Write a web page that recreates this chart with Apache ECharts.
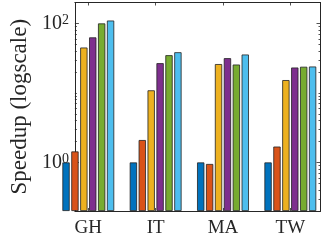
<!DOCTYPE html>
<html>
<head>
<meta charset="utf-8">
<script src="https://cdn.jsdelivr.net/npm/echarts@6/dist/echarts.min.js"></script>
<style>html,body{margin:0;padding:0;background:#fff}#c{width:324px;height:241px}</style>
</head>
<body>
<div id="c"></div>
<script>
var categories = ['GH', 'IT', 'MA', 'TW'];
var seriesA = [1.0, 1.0, 1.0, 1.0];
var seriesB = [1.44, 2.1, 0.95, 1.69];
var seriesC = [45, 10.9, 26, 15.3];
var seriesD = [63, 26.8, 31.6, 23.2];
var seriesE = [100, 34.9, 25.6, 23.8];
var seriesF = [110, 38.5, 35.7, 24];
var yTickLabels = [1, 100];
var yMinorTicks = [0.2,0.3,0.4,0.5,0.6,0.7,0.8,0.9,2,3,4,5,6,7,8,9,10,20,30,40,50,60,70,80,90,200];

var colors = ['#0072BD', '#D95319', '#EDB120', '#7E2F8E', '#77AC30', '#4DBEEE'];
var allSeries = [seriesA, seriesB, seriesC, seriesD, seriesE, seriesF];
var FONT = 'Liberation Serif';
var AX = '#262626';

var chart = echarts.init(document.getElementById('c'), null, {renderer: 'canvas'});

function yLab(v) {
  var e = Math.round(Math.log10(v));
  return '{b|10}{s|' + e + '}';
}
var richY = {
  b: {fontFamily: FONT, fontSize: 20, color: AX, verticalAlign: 'bottom', lineHeight: 20},
  s: {fontFamily: FONT, fontSize: 14, color: AX, verticalAlign: 'top', lineHeight: 14, padding: [0, 0, 10, 0]}
};

function logAxis(pos, major, showLabels, gridIndex) {
  return {
    type: 'log', gridIndex: gridIndex || 0, position: pos, min: 0.2, max: 200, logBase: 10,
    startValue: 0.2,
    axisLine: {show: major, lineStyle: {color: AX, width: 1}},
    axisTick: {show: true, inside: true, length: major ? 4 : 2,
      customValues: major ? yTickLabels : yMinorTicks,
      lineStyle: {color: AX, width: 0.8}},
    axisLabel: {show: showLabels, customValues: yTickLabels, formatter: yLab, rich: richY, margin: 6},
    splitLine: {show: false},
    name: showLabels ? 'Speedup (logscale)' : '',
    nameLocation: 'middle', nameRotate: 90, nameGap: 35,
    nameTextStyle: {fontFamily: FONT, fontSize: 23, color: AX}
  };
}

function frameX(pos) {
  return {
    type: 'value', gridIndex: 0, position: pos, min: 0, max: 1,
    axisLine: {show: true, onZero: false, lineStyle: {color: AX, width: 1}},
    axisTick: {show: false}, axisLabel: {show: false}, splitLine: {show: false}
  };
}

function catX(pos, showLabels) {
  return {
    type: 'category', gridIndex: 1, position: pos, data: categories, boundaryGap: true,
    axisLine: {show: false, onZero: false},
    axisTick: {show: true, inside: true, alignWithLabel: true, length: 3, lineStyle: {color: AX, width: 0.8}},
    axisLabel: {show: showLabels, margin: 8, fontFamily: FONT, fontSize: 19, color: AX},
    splitLine: {show: false}
  };
}

var dataY = logAxis('left', false, false, 1);
dataY.axisLine = {show: false};
dataY.axisTick = {show: false};
dataY.axisLabel = {show: false};
dataY.name = '';

var series = allSeries.map(function (vals, k) {
  return {
    type: 'bar', xAxisIndex: 2, yAxisIndex: 4,
    data: vals,
    barWidth: 7.3, barGap: '22%',
    itemStyle: {color: colors[k], borderColor: '#222', borderWidth: 0.8},
    silent: true, animation: false
  };
});

chart.setOption({
  animation: false,
  grid: [
    {left: 62, right: 3.5, top: 2.5, height: 208.5, containLabel: false},
    {left: 54.63, right: -3.93, top: 2.5, height: 208.5, containLabel: false}
  ],
  xAxis: [frameX('bottom'), frameX('top'), catX('bottom', true), catX('top', false)],
  yAxis: [logAxis('left', true, true), logAxis('left', false, false), logAxis('right', true, false), logAxis('right', false, false), dataY],
  series: series
});
</script>
</body>
</html>
